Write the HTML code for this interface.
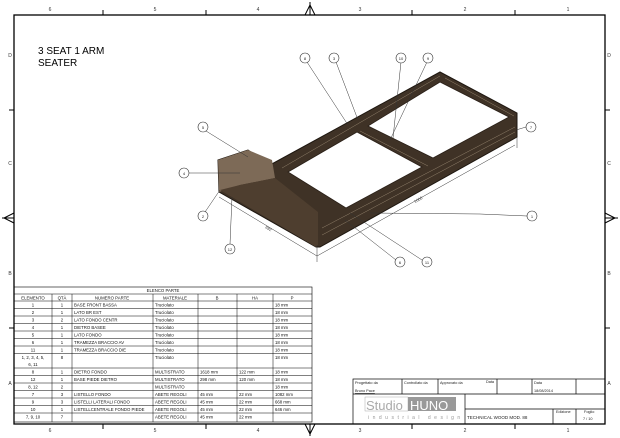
<!DOCTYPE html>
<html><head><meta charset="utf-8"><style>
body{margin:0;background:#fff;width:620px;height:438px;overflow:hidden;font-family:"Liberation Sans",sans-serif}
svg{position:absolute;left:0;top:0}
</style></head><body>
<svg width="620" height="438" viewBox="0 0 620 438" font-family="Liberation Sans, sans-serif">
<rect x="14" y="15" width="591" height="409" fill="none" stroke="#000" stroke-width="1.3"/>
<g font-size="5" fill="#333" text-anchor="middle">
<text x="50" y="11">6</text><text x="155" y="11">5</text><text x="258" y="11">4</text><text x="360" y="11">3</text><text x="465" y="11">2</text><text x="568" y="11">1</text>
<text x="50" y="432">6</text><text x="155" y="432">5</text><text x="258" y="432">4</text><text x="360" y="432">3</text><text x="465" y="432">2</text><text x="568" y="432">1</text>
<text x="10" y="57">D</text><text x="10" y="165">C</text><text x="10" y="275">B</text><text x="10" y="385">A</text>
<text x="609" y="57">D</text><text x="609" y="165">C</text><text x="609" y="275">B</text><text x="609" y="385">A</text>
</g>
<g stroke="#000" stroke-width="1">
<line x1="103" y1="10" x2="103" y2="15"/><line x1="206" y1="10" x2="206" y2="15"/><line x1="412" y1="10" x2="412" y2="15"/><line x1="515" y1="10" x2="515" y2="15"/>
<line x1="103" y1="424" x2="103" y2="429"/><line x1="206" y1="424" x2="206" y2="429"/><line x1="412" y1="424" x2="412" y2="429"/><line x1="515" y1="424" x2="515" y2="429"/>
<line x1="9" y1="110" x2="14" y2="110"/><line x1="9" y1="328" x2="14" y2="328"/><line x1="605" y1="110" x2="610" y2="110"/><line x1="605" y1="328" x2="610" y2="328"/>
<line x1="310" y1="2" x2="310" y2="15"/><line x1="310" y1="424" x2="310" y2="436"/><line x1="2" y1="218" x2="14" y2="218"/><line x1="605" y1="218" x2="618" y2="218"/>
</g>
<g fill="none" stroke="#000" stroke-width="1">
<path d="M305,15 L310,5 L315,15"/><path d="M305,424 L310,434 L315,424"/><path d="M14,213 L4,218 L14,223"/><path d="M605,213 L615,218 L605,223"/>
</g>
<text x="38" y="54" font-size="10">3 SEAT 1 ARM</text>
<text x="38" y="66" font-size="10">SEATER</text>
<!-- model -->
<polygon points="270,165 440,72 517,113 517,137 320,247 316,247 219,192 218,160 248,150" fill="#3f3226" stroke="#1e1710"/>
<polygon points="218,160 248,150 272,160 275,178 240,185 219,192" fill="#7d6a57"/>
<polygon points="220,190 240,185 275,178 318,212 318,245 316,247" fill="#4e3e2f"/>
<polygon points="288,172 357,132 422,167 346,208" fill="#fff" stroke="#2a2018" stroke-width="0.8"/>
<polygon points="368,126 440,82 509,117 433,158" fill="#fff" stroke="#2a2018" stroke-width="0.8"/>
<g stroke="#a8977f" stroke-width="0.4"><line x1="282" y1="168" x2="440" y2="76"/><line x1="322" y1="228" x2="515" y2="127"/><line x1="322" y1="235" x2="515" y2="132"/><line x1="360" y1="131" x2="428" y2="166"/><line x1="445" y1="78" x2="514" y2="116"/></g>
<!-- leaders -->
<g stroke="#333" stroke-width="0.5" fill="none">
<line x1="307" y1="62" x2="348" y2="125"/><line x1="336" y1="62" x2="358" y2="120"/><line x1="401" y1="62" x2="393" y2="138"/><line x1="427" y1="62" x2="390" y2="140"/>
<line x1="206" y1="131" x2="248" y2="157"/><line x1="189" y1="173" x2="240" y2="173"/><line x1="526" y1="127" x2="516" y2="130"/><line x1="205" y1="212" x2="220" y2="190"/>
<line x1="527" y1="216" x2="480" y2="214"/><line x1="480" y1="214" x2="370" y2="213"/><line x1="230" y1="244" x2="232" y2="197"/><line x1="396" y1="260" x2="345" y2="220"/><line x1="422" y1="260" x2="350" y2="213"/>
<line x1="219" y1="197" x2="317" y2="256"/><line x1="317" y1="256" x2="515" y2="145"/><line x1="317" y1="245" x2="317" y2="262"/><line x1="517" y1="137" x2="517" y2="148"/>
</g>
<text x="265" y="228" font-size="4" fill="#333" transform="rotate(31 265 228)">692</text>
<text x="415" y="203" font-size="4" fill="#333" transform="rotate(-29 415 203)">1660</text>
<g fill="#fff" stroke="#333" stroke-width="0.6">
<circle cx="305" cy="58" r="5"/><circle cx="334" cy="58" r="5"/><circle cx="401" cy="58" r="5"/><circle cx="428" cy="58" r="5"/>
<circle cx="203" cy="127" r="5"/><circle cx="184" cy="173" r="5"/><circle cx="531" cy="127" r="5"/><circle cx="203" cy="216" r="5"/>
<circle cx="532" cy="216" r="5"/><circle cx="230" cy="249" r="5"/><circle cx="400" cy="262" r="5"/><circle cx="427" cy="262" r="5"/>
</g>
<g font-size="4" fill="#222" text-anchor="middle">
<text x="305" y="60">8</text><text x="334" y="60">3</text><text x="401" y="60">10</text><text x="428" y="60">9</text>
<text x="203" y="129">5</text><text x="184" y="175">4</text><text x="531" y="129">7</text><text x="203" y="218">2</text>
<text x="532" y="218">1</text><text x="230" y="251">12</text><text x="400" y="264">6</text><text x="427" y="264">11</text>
</g>
<!-- BOM table -->
<g stroke="#000" stroke-width="0.6" fill="none">
<rect x="14" y="287" width="298" height="135"/>
<line x1="14" y1="294" x2="312" y2="294"/>
</g>
<g stroke="#000" stroke-width="0.5">
<line x1="14" y1="301" x2="312" y2="301"/>
<line x1="14" y1="308.5" x2="312" y2="308.5"/><line x1="14" y1="316" x2="312" y2="316"/><line x1="14" y1="323.5" x2="312" y2="323.5"/><line x1="14" y1="331" x2="312" y2="331"/><line x1="14" y1="338.5" x2="312" y2="338.5"/><line x1="14" y1="346" x2="312" y2="346"/><line x1="14" y1="353.5" x2="312" y2="353.5"/>
<line x1="14" y1="368" x2="312" y2="368"/><line x1="14" y1="375.5" x2="312" y2="375.5"/><line x1="14" y1="383" x2="312" y2="383"/><line x1="14" y1="390.5" x2="312" y2="390.5"/><line x1="14" y1="398" x2="312" y2="398"/><line x1="14" y1="405.5" x2="312" y2="405.5"/><line x1="14" y1="413" x2="312" y2="413"/>
<line x1="52" y1="294" x2="52" y2="422"/><line x1="72" y1="294" x2="72" y2="422"/><line x1="153" y1="294" x2="153" y2="422"/><line x1="198" y1="294" x2="198" y2="422"/><line x1="237" y1="294" x2="237" y2="422"/><line x1="273" y1="294" x2="273" y2="422"/>
</g>
<g font-size="4.3" fill="#111">
<text x="163" y="292" text-anchor="middle">ELENCO PARTE</text>
<g text-anchor="middle"><text x="33" y="299.5">ELEMENTO</text><text x="62" y="299.5">QTÀ</text><text x="112" y="299.5">NUMERO PARTE</text><text x="175" y="299.5">MATERIALE</text><text x="217" y="299.5">B</text><text x="255" y="299.5">HA</text><text x="292" y="299.5">P</text></g>
<g text-anchor="middle">
<text x="33" y="306.5">1</text><text x="62" y="306.5">1</text>
<text x="33" y="314">2</text><text x="62" y="314">1</text>
<text x="33" y="321.5">3</text><text x="62" y="321.5">2</text>
<text x="33" y="329">4</text><text x="62" y="329">1</text>
<text x="33" y="336.5">5</text><text x="62" y="336.5">1</text>
<text x="33" y="344">6</text><text x="62" y="344">1</text>
<text x="33" y="351.5">11</text><text x="62" y="351.5">1</text>
<text x="33" y="359">1, 2, 3, 4, 5,</text><text x="33" y="366">6, 11</text><text x="62" y="359">8</text>
<text x="33" y="373.5">8</text><text x="62" y="373.5">1</text>
<text x="33" y="381">12</text><text x="62" y="381">1</text>
<text x="33" y="388.5">8, 12</text><text x="62" y="388.5">2</text>
<text x="33" y="396">7</text><text x="62" y="396">3</text>
<text x="33" y="403.5">9</text><text x="62" y="403.5">3</text>
<text x="33" y="411">10</text><text x="62" y="411">1</text>
<text x="33" y="418.5">7, 9, 10</text><text x="62" y="418.5">7</text>
</g>
<g>
<text x="74" y="306.5">BASE FRONT BASSA</text><text x="74" y="314">LATO BR EST</text><text x="74" y="321.5">LATO FONDO CENTR</text><text x="74" y="329">DIETRO BASEE</text><text x="74" y="336.5">LATO FONDO</text><text x="74" y="344">TRAMEZZA BRACCIO AV</text><text x="74" y="351.5">TRAMEZZA BRACCIO DIE</text>
<text x="74" y="373.5">DIETRO FONDO</text><text x="74" y="381">BASE PIEDE DIETRO</text><text x="74" y="396">LISTELLO FONDO</text><text x="74" y="403.5">LISTELLI LATERALI FONDO</text><text x="74" y="411">LISTELLCENTRALE FONDO PIEDE</text>
<text x="155" y="306.5">Truciolato</text><text x="155" y="314">Truciolato</text><text x="155" y="321.5">Truciolato</text><text x="155" y="329">Truciolato</text><text x="155" y="336.5">Truciolato</text><text x="155" y="344">Truciolato</text><text x="155" y="351.5">Truciolato</text><text x="155" y="359">Truciolato</text>
<text x="155" y="373.5">MULTISTRATO</text><text x="155" y="381">MULTISTRATO</text><text x="155" y="388.5">MULTISTRATO</text><text x="155" y="396">ABETE REGOLI</text><text x="155" y="403.5">ABETE REGOLI</text><text x="155" y="411">ABETE REGOLI</text><text x="155" y="418.5">ABETE REGOLI</text>
<text x="200" y="373.5">1618 mm</text><text x="200" y="381">298 mm</text><text x="200" y="396">45 mm</text><text x="200" y="403.5">45 mm</text><text x="200" y="411">45 mm</text><text x="200" y="418.5">45 mm</text>
<text x="239" y="373.5">122 mm</text><text x="239" y="381">120 mm</text><text x="239" y="396">22 mm</text><text x="239" y="403.5">22 mm</text><text x="239" y="411">22 mm</text><text x="239" y="418.5">22 mm</text>
<text x="275" y="306.5">18 mm</text><text x="275" y="314">18 mm</text><text x="275" y="321.5">18 mm</text><text x="275" y="329">18 mm</text><text x="275" y="336.5">18 mm</text><text x="275" y="344">18 mm</text><text x="275" y="351.5">18 mm</text><text x="275" y="359">18 mm</text>
<text x="275" y="373.5">18 mm</text><text x="275" y="381">18 mm</text><text x="275" y="388.5">18 mm</text><text x="275" y="396">1082 mm</text><text x="275" y="403.5">668 mm</text><text x="275" y="411">646 mm</text>
</g>
</g>
<!-- title block -->
<g stroke="#000" stroke-width="0.7" fill="none">
<rect x="353" y="379" width="252" height="45"/>
<line x1="353" y1="394" x2="605" y2="394"/>
<line x1="402" y1="379" x2="402" y2="394"/><line x1="438" y1="379" x2="438" y2="394"/><line x1="497" y1="379" x2="497" y2="394"/><line x1="532" y1="379" x2="532" y2="394"/><line x1="576" y1="379" x2="576" y2="394"/>
<line x1="465" y1="394" x2="465" y2="424"/><line x1="465" y1="409" x2="605" y2="409"/><line x1="553" y1="409" x2="553" y2="424"/><line x1="576" y1="409" x2="576" y2="424"/>
</g>
<g font-size="3.8" fill="#222">
<text x="355" y="384">Progettato da</text><text x="355" y="392" text-decoration="underline">Bruno Pace</text>
<text x="404" y="384">Controllato da</text><text x="440" y="384">Approvato da</text><text x="486" y="383">Data</text>
<text x="534" y="384">Data</text><text x="534" y="392">18/08/2014</text>
<text x="467" y="419" font-size="4.5">TECHNICAL WOOD MOD. 88</text>
<text x="556" y="413">Edizione</text><text x="584" y="413">Foglio</text><text x="583" y="420">7 / 10</text>
</g>
<rect x="365" y="397" width="43" height="14" fill="#fff" stroke="#999" stroke-width="0.4"/>
<text x="366" y="410" font-size="13" fill="#aaa">Studio</text>
<rect x="408" y="397" width="48" height="14" fill="#999"/>
<text x="410" y="410" font-size="13" fill="#fff">HUNO</text>
<text x="368" y="419" font-size="5" fill="#999" letter-spacing="3.5">industrial design</text>
</svg>
</body></html>
